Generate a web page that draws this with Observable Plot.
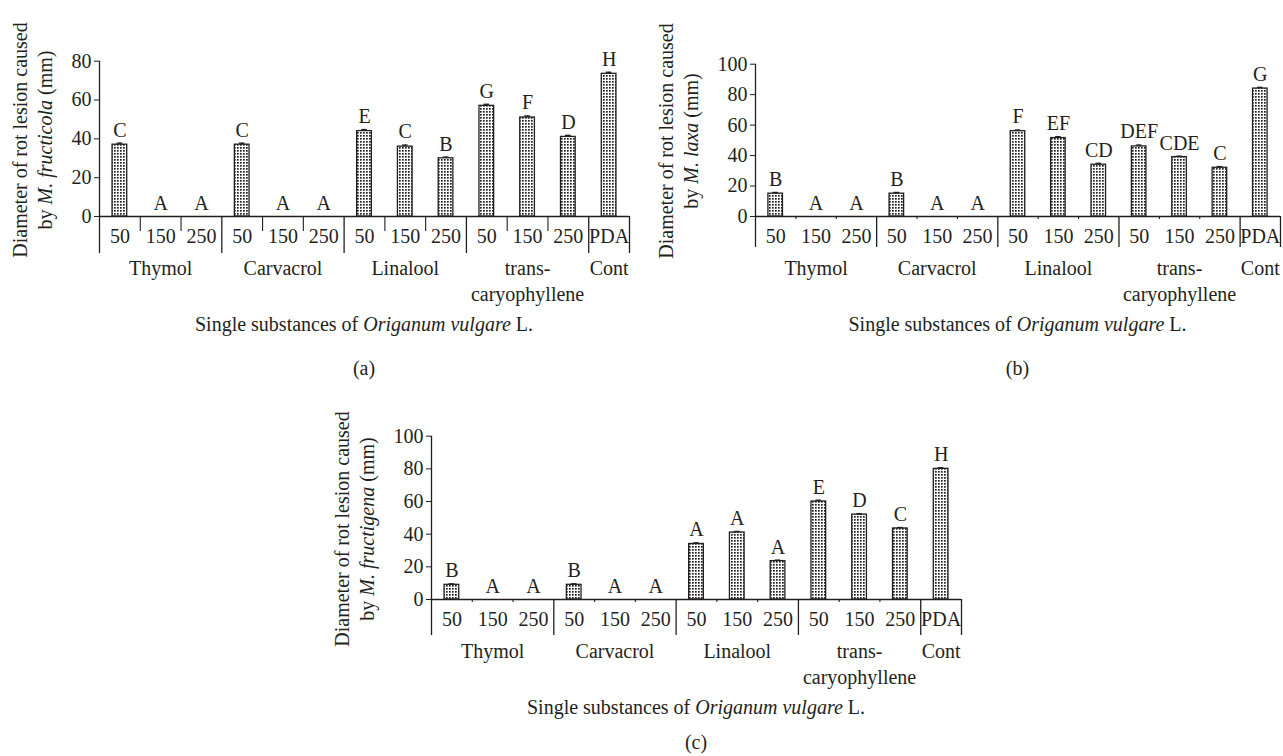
<!DOCTYPE html>
<html><head><meta charset="utf-8">
<script src="https://cdn.jsdelivr.net/npm/d3@7"></script>
<script src="https://cdn.jsdelivr.net/npm/@observablehq/plot@0.6"></script>
<style>
body{margin:0;background:#fff;}
#root{position:relative;width:1283px;height:756px;overflow:hidden;font-family:"Liberation Serif",serif;color:#231f20;background:#fff;}
#root svg{position:absolute;}
.ylab{position:absolute;transform:translate(-50%,-50%) rotate(-90deg);text-align:center;font-size:20px;line-height:25px;white-space:nowrap;}
.xlab{position:absolute;transform:translate(-50%,-50%);text-align:center;font-size:20px;white-space:nowrap;}
</style></head><body><div id="root"></div>
<script>
// ---- data ----
const categories = ["50","150","250","50","150","250","50","150","250","50","150","250","PDA"];
const groups = ["Thymol","Carvacrol","Linalool","trans-\ncaryophyllene","Cont"];
const groupSpan = [3,3,3,3,1];

const valuesA = [37,0,0,37,0,0,44,36,30,57,51,41,73.5];
const errorsA = [0.8,0,0,0.8,0,0,0.8,0.8,0.6,0.8,0.8,0.8,0.8];
const lettersA = ["C","A","A","C","A","A","E","C","B","G","F","D","H"];
const ticksA = [0,20,40,60,80];

const valuesB = [15,0,0,15,0,0,56,51.5,34,46,39,32,84];
const errorsB = [0.8,0,0,0.8,0,0,0.8,0.9,0.9,0.9,0.6,0.8,0.8];
const lettersB = ["B","A","A","B","A","A","F","EF","CD","DEF","CDE","C","G"];
const ticksB = [0,20,40,60,80,100];

const valuesC = [9,0,0,9,0,0,34,41,23.5,60,52,43.5,80];
const errorsC = [0.6,0,0,0.6,0,0,0.7,0.7,0.6,0.8,0.6,0.6,0.7];
const lettersC = ["B","A","A","B","A","A","A","A","A","E","D","C","H"];
const ticksC = [0,20,40,60,80,100];

const ink = "#231f20";
const root = document.getElementById("root");

function panel(cfg) {
  const n = categories.length;
  const rows = categories.map((c, i) => ({i, c, v: cfg.values[i], e: cfg.errors[i], l: cfg.letters[i]}));
  const bars = rows.filter(d => d.v > 0);
  const groupRows = []; let s = 0;
  groups.forEach((g, k) => { groupRows.push({g, mid: s + groupSpan[k] / 2}); s += groupSpan[k]; });
  const bounds = [0]; s = 0; groupSpan.forEach(k => { s += k; bounds.push(s); });
  const inner = d3.range(1, n).filter(b => !bounds.includes(b));
  const yMax = cfg.ticks[cfg.ticks.length - 1];
  const svg = Plot.plot({
    width: cfg.width, height: cfg.height,
    marginLeft: cfg.ml, marginRight: cfg.mr, marginTop: cfg.mt, marginBottom: cfg.mb,
    style: {fontFamily: "'Liberation Serif', serif", fontSize: "20px", color: ink, background: "transparent", overflow: "visible"},
    x: {domain: [0, n], axis: null},
    y: {domain: [0, yMax]},
    marks: [
      Plot.axisY({ticks: cfg.ticks, tickSize: 5, tickPadding: 3, label: null, fontSize: 20, stroke: ink}),
      Plot.rectY(bars, {x1: d => d.i + 0.32, x2: d => d.i + 0.68, y1: 0, y2: "v", fill: `url(#dots-${cfg.id})`, stroke: ink, strokeWidth: 1.3}),
      Plot.ruleX(bars, {x: d => d.i + 0.5, y1: "v", y2: d => d.v + d.e, stroke: ink, strokeWidth: 1.3}),
      Plot.ruleY(bars, {y: d => d.v + d.e, x1: d => d.i + 0.43, x2: d => d.i + 0.57, stroke: ink, strokeWidth: 1.3}),
      Plot.ruleY([0], {stroke: ink, strokeWidth: 1.3}),
      Plot.ruleX([0], {y1: 0, y2: yMax, stroke: ink, strokeWidth: 1.3}),
      Plot.ruleX(bounds, {x: d => d, y1: 0, y2: 0, insetBottom: -cfg.sep, stroke: ink, strokeWidth: 1.3}),
      Plot.ruleX(inner, {x: d => d, y1: 0, y2: 0, insetBottom: -cfg.innerTick, stroke: ink, strokeWidth: 1.1}),
      Plot.text(rows, {x: d => d.i + 0.5, y: d => d.v + d.e, text: "l", dy: -13, fontSize: 20, fill: ink}),
      Plot.text(rows, {x: d => d.i + 0.5, y: 0, text: "c", dy: 20, fontSize: 20, fill: ink}),
      Plot.text(groupRows, {x: "mid", y: 0, text: "g", lineAnchor: "top", dy: 40, lineHeight: 1.3, fontSize: 20, fill: ink})
    ]
  });
  const defs = d3.select(svg).insert("defs", ":first-child");
  const p = defs.append("pattern").attr("id", `dots-${cfg.id}`).attr("width", 3).attr("height", 3).attr("patternUnits", "userSpaceOnUse");
  p.append("rect").attr("width", 3).attr("height", 3).attr("fill", "#fff");
  p.append("rect").attr("width", 1.7).attr("height", 1.7).attr("fill", ink);
  svg.style.left = cfg.left + "px";
  svg.style.top = cfg.top + "px";
  root.appendChild(svg);

  const yl = document.createElement("div");
  yl.className = "ylab";
  yl.innerHTML = `Diameter of rot lesion caused<br>by <i>${cfg.species}</i> (mm)`;
  yl.style.left = cfg.ylx + "px"; yl.style.top = cfg.yly + "px";
  root.appendChild(yl);

  const cx = cfg.left + cfg.ml + (cfg.width - cfg.ml - cfg.mr) / 2;
  const xt = document.createElement("div");
  xt.className = "xlab";
  xt.innerHTML = `Single substances of <i>Origanum vulgare</i> L.`;
  xt.style.left = cx + "px"; xt.style.top = cfg.xty + "px";
  root.appendChild(xt);

  const pl = document.createElement("div");
  pl.className = "xlab";
  pl.textContent = `(${cfg.id})`;
  pl.style.left = cx + "px"; pl.style.top = cfg.ply + "px";
  root.appendChild(pl);
}

panel({id: "a", values: valuesA, errors: errorsA, letters: lettersA, ticks: ticksA, species: "M. fructicola",
  left: 0, top: 0, width: 640, height: 320, ml: 99, mr: 11, mt: 60.7, mb: 104, sep: 37, innerTick: 15,
  ylx: 33, yly: 140, xty: 324, ply: 368});
panel({id: "b", values: valuesB, errors: errorsB, letters: lettersB, ticks: ticksB, species: "M. laxa",
  left: 640, top: 0, width: 643, height: 320, ml: 115, mr: 3, mt: 63.7, mb: 104, sep: 31, innerTick: 3,
  ylx: 679, yly: 141, xty: 324, ply: 368});
panel({id: "c", values: valuesC, errors: errorsC, letters: lettersC, ticks: ticksC, species: "M. fructigena",
  left: 320, top: 390, width: 660, height: 320, ml: 111, mr: 19, mt: 45.7, mb: 111, sep: 36, innerTick: 3,
  ylx: 355, yly: 529, xty: 707, ply: 742});
</script></body></html>
